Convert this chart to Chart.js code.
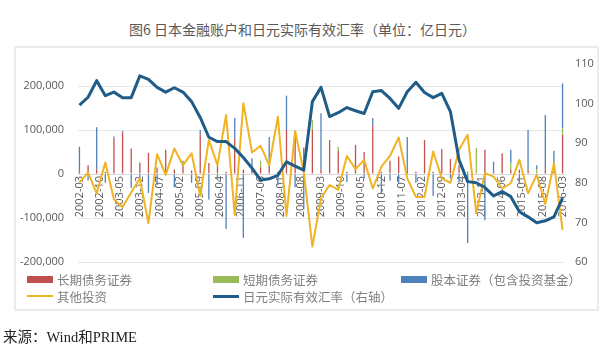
<!DOCTYPE html>
<html lang="zh-CN">
<head>
<meta charset="UTF-8">
<title>图6 日本金融账户和日元实际有效汇率</title>
<script src="https://cdn.jsdelivr.net/npm/chart.js"></script>
<style>
    body{
        margin: 0;
        width: 611px;
        height: 353px;
        position: relative;
        overflow: hidden;
        background: #fff;
        font-family: "Noto Sans CJK SC", sans-serif;
    }
    #title{
        position: absolute;
        left: 0; top: 20px;
        width: 605px;
        text-align: center;
        font-size: 14px;
        line-height: 18px;
        color: #595959;
    }
    #box{
        position: absolute;
        left: 14px; top: 46px;
        width: 581px; height: 261px;
        border: 2px solid #ebebeb;
    }
    #chart{ position: absolute; left: 0; top: 0; }
    #legend{
        position: absolute;
        left: 27px; top: 271px;
        display: grid;
        grid-template-columns: 186px 188px auto;
        row-gap: 1px;
        font-size: 12.5px;
        color: #808080;
    }
    .item{ display: flex; align-items: center; height: 16px; white-space: nowrap; }
    .mark{ width: 26px; margin-right: 4px; }
    #source{
        position: absolute;
        left: 3px; top: 325px;
        font-size: 14.5px;
        color: #222;
        font-family: "Liberation Serif", "Noto Sans CJK SC", serif;
    }
</style>
</head>
<body>
<div id="title">图6 日本金融账户和日元实际有效汇率（单位：亿日元）</div>
<div id="box"></div>
<canvas id="chart" width="611" height="353"></canvas>
<div id="legend"></div>
<div id="source">来源：Wind和PRIME</div>

<script>
    // quarterly observations
    const quarters = [
        '2002-03','2002-06','2002-09','2002-12',
        '2003-03','2003-06','2003-09','2003-12',
        '2004-03','2004-06','2004-09','2004-12',
        '2005-03','2005-06','2005-09','2005-12',
        '2006-03','2006-06','2006-09','2006-12',
        '2007-03','2007-06','2007-09','2007-12',
        '2008-03','2008-06','2008-09','2008-12',
        '2009-03','2009-06','2009-09','2009-12',
        '2010-03','2010-06','2010-09','2010-12',
        '2011-03','2011-06','2011-09','2011-12',
        '2012-03','2012-06','2012-09','2012-12',
        '2013-03','2013-06','2013-09','2013-12',
        '2014-03','2014-06','2014-09','2014-12',
        '2015-03','2015-06','2015-09','2015-12',
        '2016-03'
    ];
    const tickLabels = [
        '2002-03','2002-10','2003-05','2003-12','2004-07','2005-02','2005-09',
        '2006-04','2006-11','2007-06','2008-01','2008-08','2009-03','2009-10',
        '2010-05','2010-12','2011-07','2012-02','2012-09','2013-04','2013-11',
        '2014-06','2015-01','2015-08','2016-03'
    ];
    const leftTicks = [-200000, -100000, 0, 100000, 200000];
    const rightTicks = [60, 70, 80, 90, 100, 110];

    // 亿日元
    const longDebt = [6000, 20000, 10000, 5000, 80000, 95000, 58000, 26000, 48000, 15000, 52000, 10000,
        20000, 8000, 90000, 25000, 18000, 5000, 80000, 10000, 10000, 15000, 20000, 5000,
        100000, 95000, 60000, 100000, 10000, 77000, 52000, 5000, 66000, 50000, 110000, 5000,
        30000, 40000, 10000, 5000, 77000, 5000, 57000, 34000, 20000, 5000, 0, 55000,
        5000, 47000, 10000, 10000, 10000, 0, 10000, 5000, 89000];
    const shortDebt = [0, 0, 0, 0, 0, 0, 0, 0, 0, 0, 0, 0,
        0, 0, 0, 0, 0, 0, 0, 0, 0, 15000, 0, 0,
        0, 0, 0, 23000, 0, 0, 10000, 0, 0, 0, 0, 0,
        0, 0, 0, 0, 0, 0, 0, 0, 0, 0, 59000, 0,
        0, 0, 15000, 0, 0, 10000, 0, 10000, 15000];
    const equity = [56000, -15000, 96000, -20000, 5000, 3000, -32000, -10000, -43000, -25000, 3000, -30000,
        10000, -20000, 10000, -58000, -10000, -125000, 47000, -145000, 26000, 0, 64000, -25000,
        78000, -30000, -80000, 0, 128000, 0, 0, -18000, 0, -10000, 17000, -43000,
        -15000, -20000, 74000, -20000, 0, -50000, 0, -10000, -20000, -157000, 0, -105000,
        23000, 0, 30000, -20000, 90000, 10000, 124000, 38000, 102000];
    const otherInv = [-19000, 3000, -44000, 26000, -58000, -75000, -42000, -10000, -112000, 45000, -2000, 58000,
        20000, 47000, -50000, 77000, 20000, 134000, -93000, 161000, 49000, 64000, 20000, 130000,
        -95000, 98000, 5000, -165000, -55000, -25000, -36000, 41000, 11000, 32000, -33000, 17000,
        41000, 83000, -10000, -52000, -52000, 51000, -10000, -20000, 55000, 89000, -89000, 2000,
        -6000, -33000, -21000, 32000, -44000, -2000, -68000, 24000, -127000];
    // 日元实际有效汇率
    const reer = [99.6, 101.6, 105.8, 102.0, 102.9, 101.5, 101.5, 107.0, 106.1, 104.1, 102.9, 104.0,
        102.9, 100.5, 96.5, 91.5, 90.4, 90.4, 88.7, 86.4, 83.7, 80.7, 81.0, 81.9,
        85.3, 84.2, 83.2, 100.5, 104.1, 96.7, 97.7, 99.0, 98.2, 97.5, 103.0, 103.3,
        101.3, 98.8, 103.0, 105.4, 102.8, 101.5, 102.6, 98.0, 85.8, 80.3, 80.0, 78.8,
        76.7, 77.8, 76.5, 72.7, 71.4, 69.9, 70.4, 71.4, 76.1];

    const names = ['长期债务证券', '短期债务证券', '股本证券（包含投资基金）', '其他投资', '日元实际有效汇率（右轴）'];
    const colors = ['#c0504d', '#9bbb59', '#4f81bd', '#f0b323', '#1f5c88'];

    function monthIndex(s) {
        const [y, m] = s.split('-').map(Number);
        return (y - 2002) * 12 + (m - 3);
    }
    function points(values) {
        return values.map((v, i) => ({ x: monthIndex(quarters[i]), y: v }));
    }

    Chart.defaults.font.family = 'Open Sans';
    Chart.defaults.font.size = 11;
    Chart.defaults.color = '#595959';

    // thin bars, no auto inflation
    const barSet = (i, values) => ({
        type: 'bar', label: names[i], data: points(values),
        backgroundColor: colors[i], barThickness: 1.3, inflateAmount: 0,
        yAxisID: 'y', stack: 'flows', order: 3
    });

    new Chart(document.getElementById('chart'), {
        type: 'bar',
        data: {
            datasets: [
                barSet(0, longDebt),
                barSet(1, shortDebt),
                barSet(2, equity),
                {
                    type: 'line', label: names[3], data: points(otherInv),
                    borderColor: colors[3], borderWidth: 2, pointRadius: 0,
                    borderJoinStyle: 'round', yAxisID: 'y', stack: 'other', order: 2
                },
                {
                    type: 'line', label: names[4], data: points(reer),
                    borderColor: colors[4], borderWidth: 3, pointRadius: 0,
                    borderJoinStyle: 'round', yAxisID: 'y1', stack: 'reer', order: 1
                }
            ]
        },
        options: {
            responsive: false,
            animation: false,
            layout: { padding: { left: 0, right: 17, top: 64, bottom: 91 } },
            plugins: { legend: { display: false }, tooltip: { enabled: false } },
            scales: {
                x: {
                    type: 'linear',
                    position: { y: 0 },
                    offset: false,
                    min: -0.5, max: 168.5,
                    grid: { display: false, drawTicks: false },
                    border: { color: '#d9d9d9' },
                    afterBuildTicks: ax => { ax.ticks = tickLabels.map(l => ({ value: monthIndex(l) })); },
                    ticks: {
                        autoSkip: false, minRotation: 90, maxRotation: 90, padding: 2,
                        callback: v => tickLabels.find(l => monthIndex(l) === v) || ''
                    }
                },
                y: {
                    position: 'left',
                    min: -200000, max: 250000,
                    afterBuildTicks: ax => { ax.ticks = leftTicks.map(v => ({ value: v })); },
                    afterFit: s => { s.width = 78; },
                    ticks: { padding: 14, callback: v => v.toLocaleString('en-US') },
                    grid: { color: '#e6e6e6', drawTicks: false },
                    border: { display: false }
                },
                y1: {
                    position: 'right',
                    min: 60, max: 110,
                    afterBuildTicks: ax => { ax.ticks = rightTicks.map(v => ({ value: v })); },
                    afterFit: s => { s.width = 30; },
                    ticks: { padding: 11 },
                    grid: { display: false, drawTicks: false },
                    border: { display: false }
                }
            }
        }
    });

    // legend in three columns, like the original
    const legend = document.getElementById('legend');
    names.forEach((n, i) => {
        const h = i < 3 ? 7 : (i === 3 ? 2 : 3);
        legend.innerHTML += '<div class="item"><span class="mark" style="height:' + h +
            'px;background:' + colors[i] + '"></span>' + n + '</div>';
    });
</script>
</body>
</html>
